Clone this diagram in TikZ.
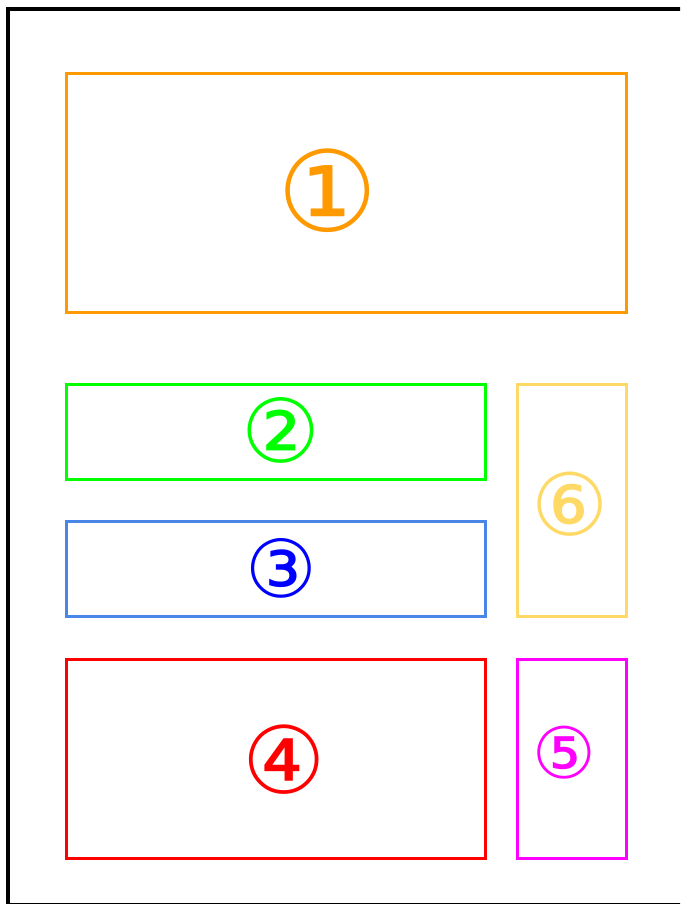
\documentclass[tikz,border=0pt]{standalone}
\usepackage{fontspec}
\setmainfont{DejaVu Sans}
\usetikzlibrary{positioning}
\definecolor{zorange}{HTML}{FF9900}
\definecolor{zgreen}{HTML}{00FF00}
\definecolor{zblueline}{HTML}{4A86E8}
\definecolor{zblue}{HTML}{0000FF}
\definecolor{zred}{HTML}{FF0000}
\definecolor{zmagenta}{HTML}{FF00FF}
\definecolor{zyellow}{HTML}{FFD966}

\begin{document}
\begin{tikzpicture}[x=1pt,y=-1pt,
zone/.style={draw,line width=3pt,inner sep=0pt},
num/.style={inner sep=0pt}]
\useasboundingbox (0,0) rectangle (680,904);
\clip (0,0) rectangle (680,904);
% sheet frame, cut off at right and bottom
\draw[line width=3.5pt] (8,8.8) rectangle (720,905);
% zones
\node[zone,draw=zorange,minimum width=559.5pt,minimum height=238.5pt] (head) at (346.25,192.75) {};
\node[zone,draw=zgreen,minimum width=419pt,minimum height=95pt] (bandA) at (276,431.5) {};
\node[zone,draw=zblueline,minimum width=419pt,minimum height=95pt] (bandB) at (276,568.5) {};
\node[zone,draw=zred,minimum width=419pt,minimum height=199.5pt] (body) at (276,758.75) {};
\node[zone,draw=zmagenta,minimum width=108.5pt,minimum height=199.5pt] (sideB) at (571.75,758.75) {};
\node[zone,draw=zyellow,minimum width=108.5pt,minimum height=232pt] (sideA) at (571.75,500) {};
% numbers
\node[num,text=zorange,font=\fontsize{112}{112}\selectfont] (n1) at (328,191) {①};
\node[num,text=zgreen,font=\fontsize{88}{88}\selectfont] (n2) at (280.5,430) {②};
\node[num,text=zblue,font=\fontsize{80}{80}\selectfont] (n3) at (281,568) {③};
\node[num,text=zred,font=\fontsize{93}{93}\selectfont] (n4) at (284,760) {④};
\node[num,text=zmagenta,font=\fontsize{71}{71}\selectfont] (n5) at (564,753) {⑤};
\node[num,text=zyellow,font=\fontsize{86}{86}\selectfont] (n6) at (570,504) {⑥};
\end{tikzpicture}
\end{document}
